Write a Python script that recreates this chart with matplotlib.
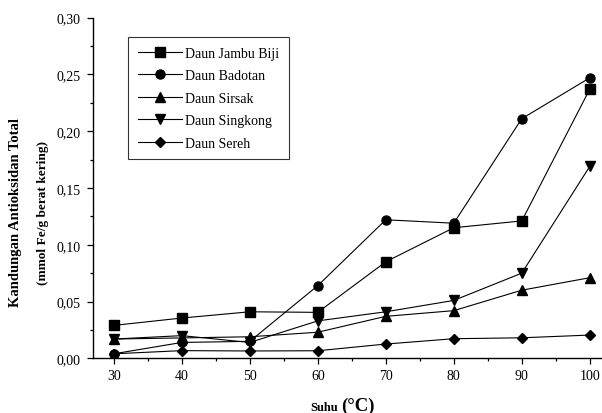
import matplotlib
matplotlib.use('Agg')
import matplotlib.pyplot as plt
from matplotlib.ticker import MultipleLocator, FuncFormatter

# suhu (C)
suhu = [30, 40, 50, 60, 70, 80, 90, 100]

jambu_biji = [0.029, 0.0355, 0.041, 0.0405, 0.085, 0.115, 0.121, 0.237]
badotan = [0.004, 0.014, 0.015, 0.064, 0.122, 0.119, 0.211, 0.247]
sirsak = [0.017, 0.018, 0.019, 0.023, 0.037, 0.042, 0.060, 0.071]
singkong = [0.017, 0.020, 0.014, 0.033, 0.041, 0.051, 0.075, 0.169]
sereh = [0.004, 0.0068, 0.0065, 0.0067, 0.0126, 0.0173, 0.0181, 0.0205]

labels = ['Daun Jambu Biji', 'Daun Badotan', 'Daun Sirsak', 'Daun Singkong', 'Daun Sereh']
markers = ['s', 'o', '^', 'v', 'D']
series = [jambu_biji, badotan, sirsak, singkong, sereh]

plt.rcParams['font.family'] = 'Liberation Serif'

fig = plt.figure(figsize=(6.02, 4.14), dpi=100)
ax = fig.add_axes([0.154, 0.132, 0.846, 0.823])

for vals, lab, mk in zip(series, labels, markers):
    ms = 5.5 if mk == 'D' else 6.5
    ax.plot(suhu, vals, color='black', lw=0.8, marker=mk, ms=ms, label=lab)

ax.set_xlim(26.9, 101.8)
ax.set_ylim(0, 0.30)
ax.xaxis.set_major_locator(MultipleLocator(10))
ax.xaxis.set_minor_locator(MultipleLocator(5))
ax.yaxis.set_major_locator(MultipleLocator(0.05))
ax.yaxis.set_minor_locator(MultipleLocator(0.025))
ax.yaxis.set_major_formatter(FuncFormatter(lambda v, p: '{:.2f}'.format(v).replace('.', ',')))

for s in ['top', 'right']:
    ax.spines[s].set_visible(False)
for s in ['left', 'bottom']:
    ax.spines[s].set_linewidth(1.0)
ax.tick_params(which='major', direction='out', length=4, width=0.9, labelsize=10)
ax.tick_params(axis='y', which='major', pad=5)
ax.tick_params(which='minor', direction='out', length=2.5, width=0.9)

leg = ax.legend(loc='upper left', bbox_to_anchor=(0.069, 0.943), borderaxespad=0,
                fontsize=10, frameon=True, fancybox=False, edgecolor='black',
                handlelength=3.2, labelspacing=0.68, borderpad=0.7, handletextpad=0.2)
leg.get_frame().set_linewidth(0.8)

fig.text(0.025, 0.486, 'Kandungan Antioksidan Total', rotation=90, ha='center', va='center',
         fontsize=10.5, fontweight='bold')
fig.text(0.071, 0.486, '(mmol Fe/g berat kering)', rotation=90, ha='center', va='center',
         fontsize=9.6, fontweight='bold')
fig.text(0.562, 0.008, 'Suhu', ha='right', va='baseline', fontsize=9, fontweight='bold')
fig.text(0.566, 0.008, '(\u00b0C)', ha='left', va='baseline', fontsize=13.5, fontweight='bold')

fig.savefig('out.png', dpi=100)
